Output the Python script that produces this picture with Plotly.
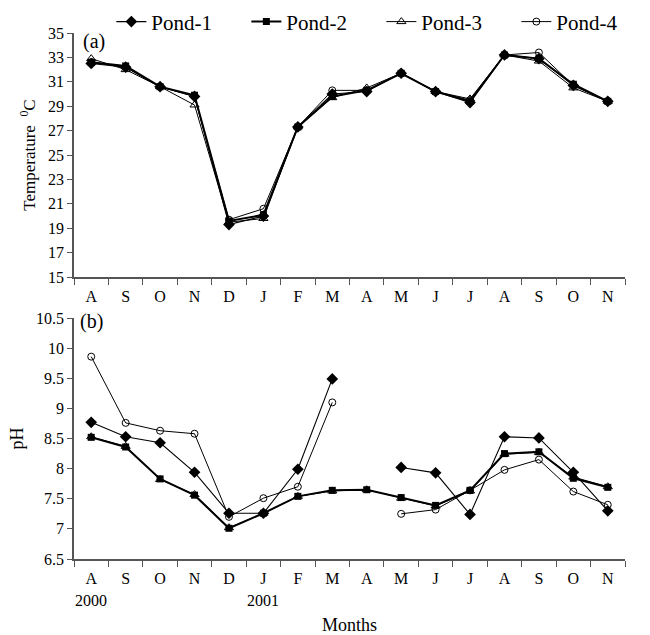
import plotly.graph_objects as go

month_labels = ["A", "S", "O", "N", "D", "J", "F", "M", "A", "M", "J", "J", "A", "S", "O", "N"]
year_labels = {0: "2000", 5: "2001"}

temp_pond1 = [32.5, 32.2, 30.6, 29.8, 19.3, 20.0, 27.3, 30.0, 30.2, 31.7, 30.2, 29.3, 33.2, 32.9, 30.7, 29.4]
temp_pond2 = [32.6, 32.3, 30.6, 29.9, 19.6, 20.1, 27.3, 29.8, 30.3, 31.7, 30.2, 29.4, 33.2, 32.9, 30.8, 29.4]
temp_pond3 = [32.9, 32.0, 30.6, 29.1, 19.5, 19.8, 27.3, 29.7, 30.5, 31.7, 30.2, 29.6, 33.2, 32.7, 30.5, 29.4]
temp_pond4 = [32.6, 32.2, 30.6, 29.8, 19.7, 20.6, 27.3, 30.3, 30.3, 31.7, 30.2, 29.5, 33.2, 33.4, 30.7, 29.4]

ph_pond1 = [8.77, 8.53, 8.43, 7.94, 7.26, 7.26, 7.99, 9.49, None, 8.02, 7.93, 7.24, 8.53, 8.51, 7.94, 7.30]
ph_pond2 = [8.52, 8.36, 7.83, 7.56, 7.01, 7.26, 7.54, 7.64, 7.65, 7.52, 7.39, 7.64, 8.25, 8.28, 7.84, 7.69]
ph_pond3 = [8.53, 8.37, 7.82, 7.57, 7.02, 7.26, 7.54, 7.63, 7.65, 7.51, 7.38, 7.63, 8.24, 8.27, 7.86, 7.70]
ph_pond4 = [9.86, 8.76, 8.63, 8.58, 7.20, 7.51, 7.70, 9.10, None, 7.25, 7.32, 7.64, 7.98, 8.15, 7.62, 7.40]

x_idx = list(range(len(month_labels)))
FONT = "Liberation Serif, Times New Roman, Times, serif"

styles = [
    ("Pond-1", dict(symbol="diamond", size=9, color="black"), 1.1),
    ("Pond-2", dict(symbol="square", size=7, color="black"), 2.0),
    ("Pond-3", dict(symbol="triangle-up-open", size=8, color="black", line=dict(width=1)), 1.0),
    ("Pond-4", dict(symbol="circle-open", size=7, color="black", line=dict(width=1)), 1.0),
]

fig = go.Figure()
# invisible spacer entry that only offsets the legend row to the right
fig.add_trace(go.Scatter(x=[None], y=[None], name="", mode="markers",
                         marker=dict(opacity=0, color="white"), showlegend=True,
                         legendwidth=10, hoverinfo="skip", xaxis="x", yaxis="y"))
temps = [temp_pond1, temp_pond2, temp_pond3, temp_pond4]
phs = [ph_pond1, ph_pond2, ph_pond3, ph_pond4]
for (name, mk, lw), t, p in zip(styles, temps, phs):
    fig.add_trace(go.Scatter(x=x_idx, y=t, name=name, mode="lines+markers",
                             marker=mk, line=dict(color="black", width=lw),
                             xaxis="x", yaxis="y", legendgroup=name, showlegend=True,
                             legendwidth=90))
    fig.add_trace(go.Scatter(x=x_idx, y=p, name=name, mode="lines+markers",
                             marker=mk, line=dict(color="black", width=lw),
                             xaxis="x2", yaxis="y2", legendgroup=name, showlegend=False,
                             connectgaps=False))

boundaries = [i - 0.5 for i in range(len(month_labels) + 1)]
axis_col = "#555555"
xcommon = dict(range=[-0.5, len(month_labels) - 0.5], tickmode="array", tickvals=x_idx,
               ticktext=month_labels, ticks="", ticklabelstandoff=4,
               showline=True, linecolor=axis_col, linewidth=1.5, showgrid=False, zeroline=False,
               minor=dict(tickmode="array", tickvals=boundaries, ticks="outside", ticklen=6,
                          tickcolor=axis_col, tickwidth=1, showgrid=False),
               tickfont=dict(family=FONT, size=16, color="black"))

fig.update_layout(
    width=650, height=635,
    margin=dict(l=74, r=25, t=33, b=76, autoexpand=False),
    paper_bgcolor="white", plot_bgcolor="white",
    font=dict(family=FONT, color="black"),
    xaxis=dict(domain=[0, 1], anchor="y", **xcommon),
    xaxis2=dict(domain=[0, 1], anchor="y2", **xcommon),
    yaxis=dict(domain=[0.536, 1], anchor="x", range=[15, 35], tickmode="array",
               tickvals=list(range(15, 36, 2)), ticks="outside", ticklen=5,
               tickcolor=axis_col, showline=True, linecolor=axis_col, linewidth=1.5,
               showgrid=False, zeroline=False,
               tickfont=dict(family=FONT, size=16, color="black"),
               title=dict(text="Temperature  <sup>0</sup>C", font=dict(family=FONT, size=17), standoff=8)),
    yaxis2=dict(domain=[0, 0.458], anchor="x2", range=[6.5, 10.5], tickmode="array",
                tickvals=[6.5, 7, 7.5, 8, 8.5, 9, 9.5, 10, 10.5],
                ticktext=["6.5", "7", "7.5", "8", "8.5", "9", "9.5", "10", "10.5"],
                ticks="outside", ticklen=5,
                tickcolor=axis_col, showline=True, linecolor=axis_col, linewidth=1.5,
                showgrid=False, zeroline=False,
                tickfont=dict(family=FONT, size=16, color="black"),
                title=dict(text="pH", font=dict(family=FONT, size=18), standoff=8)),
    legend=dict(orientation="h", x=-0.032, xanchor="left", y=1.021, yanchor="middle",
                font=dict(family=FONT, size=21, color="black"),
                itemwidth=30, bgcolor="rgba(0,0,0,0)", tracegroupgap=0),
    showlegend=True,
)

annotations = [
    dict(text="(a)", x=0.012, y=1.01, xref="paper", yref="paper", xanchor="left", yanchor="top",
         showarrow=False, font=dict(family=FONT, size=20, color="black")),
    dict(text="(b)", x=0.008, y=0.477, xref="paper", yref="paper", xanchor="left", yanchor="top",
         showarrow=False, font=dict(family=FONT, size=20, color="black")),
    dict(text="Months", x=0.5, y=-0.125, xref="paper", yref="paper", xanchor="center", yanchor="middle",
         showarrow=False, font=dict(family=FONT, size=18, color="black")),
]
for idx, yr in year_labels.items():
    annotations.append(dict(text=yr, x=idx, y=-0.078, xref="x2", yref="paper",
                            xanchor="center", yanchor="middle", showarrow=False,
                            font=dict(family=FONT, size=16, color="black")))
fig.update_layout(annotations=annotations)

fig.write_html("out.html")
